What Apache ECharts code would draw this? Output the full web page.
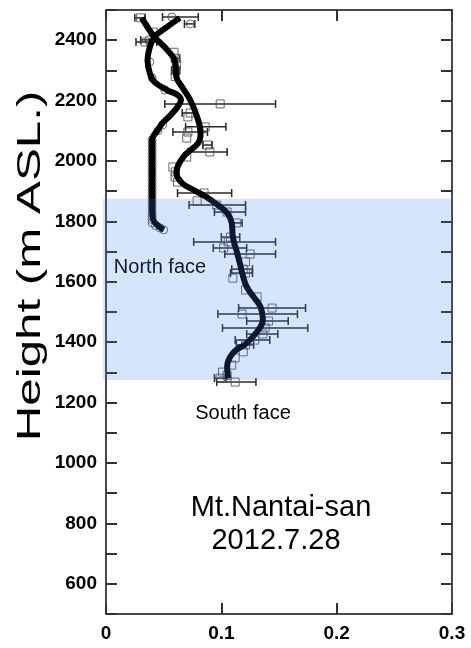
<!DOCTYPE html>
<html><head><meta charset="utf-8">
<script src="https://cdn.jsdelivr.net/npm/echarts@6/dist/echarts.min.js"></script>
<style>html,body{margin:0;padding:0;background:#fff}#c{width:471px;height:648px}</style>
</head><body><div id="c"></div>
<script>
// Tick labels
const xTicks = [0, 0.1, 0.2, 0.3];
const yTickLabels = [600, 800, 1000, 1200, 1400, 1600, 1800, 2000, 2200, 2400];
// Shaded altitude band [x, yLow, yHigh]
const band = [[0, 1275, 1875]];
// South face fitted curve [x, height]
const southLine = [[0.106,1280],[0.105,1318],[0.110,1364],[0.122,1397],[0.132,1440],[0.136,1474],[0.134,1517],[0.128,1550],[0.122,1583],[0.119,1616],[0.116,1662],[0.113,1705],[0.110,1748],[0.109,1795],[0.105,1828],[0.097,1854],[0.087,1881],[0.076,1904],[0.066,1927],[0.061,1960],[0.067,2013],[0.080,2060],[0.082,2093],[0.079,2146],[0.073,2202],[0.066,2245],[0.061,2278],[0.060,2328],[0.053,2368],[0.042,2411],[0.031,2474]];
// North face fitted curve [x, height]
const northLine = [[0.050,1772],[0.046,1783],[0.041,1805],[0.040,1838],[0.040,1950],[0.040,2070],[0.045,2103],[0.049,2126],[0.056,2152],[0.062,2179],[0.065,2202],[0.062,2219],[0.053,2235],[0.042,2262],[0.038,2291],[0.036,2334],[0.038,2377],[0.042,2411],[0.053,2444],[0.064,2474]];
// South face observations [x, height]
const southPts = [[0.112,1268],[0.099,1281],[0.105,1290],[0.101,1301],[0.109,1324],[0.112,1348],[0.119,1368],[0.121,1391],[0.129,1407],[0.136,1427],[0.138,1447],[0.141,1470],[0.118,1493],[0.144,1513],[0.131,1550],[0.121,1573],[0.110,1612],[0.121,1629],[0.119,1642],[0.121,1666],[0.125,1692],[0.102,1712],[0.106,1732],[0.108,1748],[0.113,1795],[0.105,1831],[0.096,1854],[0.079,1868],[0.085,1894],[0.062,1930],[0.060,1947],[0.060,1964],[0.058,1980],[0.070,2013],[0.090,2030],[0.088,2053],[0.070,2076],[0.071,2096],[0.086,2113],[0.071,2146],[0.073,2159],[0.099,2189],[0.060,2280],[0.060,2300],[0.061,2320],[0.060,2340],[0.059,2360],[0.034,2394],[0.041,2427],[0.030,2474]];
// South face error bars [height, xLow, xHigh]
const southErr = [[1268,0.096,0.130],[1281,0.094,0.104],[1391,0.113,0.128],[1407,0.112,0.142],[1427,0.122,0.149],[1447,0.101,0.175],[1470,0.122,0.158],[1493,0.097,0.166],[1513,0.115,0.173],[1629,0.108,0.127],[1642,0.109,0.127],[1692,0.103,0.147],[1712,0.093,0.122],[1732,0.076,0.147],[1748,0.100,0.116],[1795,0.110,0.118],[1831,0.094,0.121],[1854,0.072,0.121],[1894,0.062,0.109],[2030,0.071,0.105],[2053,0.084,0.092],[2096,0.058,0.088],[2113,0.069,0.104],[2159,0.066,0.079],[2189,0.051,0.147],[2300,0.057,0.064],[2340,0.057,0.064],[2394,0.026,0.044],[2474,0.025,0.034]];
// North face observations [x, height]
const northPts = [[0.050,1772],[0.047,1778],[0.043,1786],[0.040,1795],[0.040,1806],[0.040,1817],[0.040,1828],[0.040,1839],[0.040,1850],[0.040,1861],[0.040,1872],[0.040,1883],[0.040,1894],[0.040,1905],[0.040,1916],[0.040,1927],[0.040,1938],[0.040,1949],[0.040,1960],[0.040,1971],[0.040,1982],[0.040,1993],[0.040,2004],[0.040,2015],[0.040,2026],[0.040,2037],[0.040,2048],[0.040,2059],[0.040,2070],[0.045,2100],[0.049,2119],[0.051,2235],[0.040,2275],[0.038,2328],[0.038,2391],[0.037,2401],[0.073,2454],[0.057,2477]];
// North face error bars [height, xLow, xHigh]
const northErr = [[2401,0.030,0.044],[2454,0.068,0.077],[2477,0.049,0.080]];

const FONT = "'Liberation Sans', Arial, sans-serif";
const chart = echarts.init(document.getElementById('c'));

function errItem(params, api) {
  const y = api.value(0), lo = api.value(1), hi = api.value(2);
  const a = api.coord([lo, y]), b = api.coord([hi, y]);
  const h = 4, st = {stroke: '#2a2a2a', lineWidth: 1.5};
  return {type: 'group', children: [
    {type: 'line', shape: {x1: a[0], y1: a[1], x2: b[0], y2: b[1]}, style: st},
    {type: 'line', shape: {x1: a[0], y1: a[1] - h, x2: a[0], y2: a[1] + h}, style: st},
    {type: 'line', shape: {x1: b[0], y1: b[1] - h, x2: b[0], y2: b[1] + h}, style: st}
  ]};
}

function axisLine() { return {show: true, onZero: false, lineStyle: {color: '#4a4a4a', width: 2}}; }
function axisTick() { return {show: true, inside: true, length: 11, lineStyle: {color: '#333', width: 2}}; }

chart.setOption({
  animation: false,
  grid: {left: 106, top: 10, right: 19, bottom: 34},
  xAxis: [
    {type: 'value', position: 'bottom', min: 0, max: 0.3, interval: 0.1,
     axisLine: axisLine(), axisTick: axisTick(), splitLine: {show: false},
     axisLabel: {margin: 10, color: '#000', fontSize: 19, fontWeight: 'bold', fontFamily: FONT,
       formatter: v => (v === 0 ? '0' : v.toFixed(1))}},
    {type: 'value', position: 'top', min: 0, max: 0.3, interval: 0.1,
     axisLine: axisLine(), axisTick: axisTick(), splitLine: {show: false}, axisLabel: {show: false}}
  ],
  yAxis: [
    {type: 'value', position: 'left', min: 500, max: 2500, interval: 100,
     axisLine: axisLine(), axisTick: axisTick(), splitLine: {show: false},
     axisLabel: {margin: 9, color: '#000', fontSize: 19, fontWeight: 'bold', fontFamily: FONT,
       formatter: v => (yTickLabels.indexOf(v) >= 0 ? String(v) : '')}},
    {type: 'value', position: 'right', min: 500, max: 2500, interval: 100,
     axisLine: axisLine(), axisTick: axisTick(), splitLine: {show: false}, axisLabel: {show: false}}
  ],
  graphic: [
    {type: 'text', z: 1, x: 31, y: 266, rotation: Math.PI / 2, scaleX: 1.45,
     style: {text: 'Height (m ASL.)', fontSize: 34, fontFamily: FONT, fill: '#000', align: 'center', verticalAlign: 'middle'}},
    {type: 'text', z: 1, x: 160, y: 267, style: {text: 'North face', fontSize: 20, fontFamily: FONT, fill: '#000', align: 'center', verticalAlign: 'middle'}},
    {type: 'text', z: 1, x: 243, y: 413, style: {text: 'South face', fontSize: 20, fontFamily: FONT, fill: '#000', align: 'center', verticalAlign: 'middle'}},
    {type: 'text', z: 1, x: 281, y: 508, style: {text: 'Mt.Nantai-san', fontSize: 29, fontFamily: FONT, fill: '#000', align: 'center', verticalAlign: 'middle'}},
    {type: 'text', z: 1, x: 276, y: 541, style: {text: '2012.7.28', fontSize: 29, fontFamily: FONT, fill: '#000', align: 'center', verticalAlign: 'middle'}}
  ],
  series: [
    {type: 'custom', name: 'southErr', z: 3, data: southErr, renderItem: errItem, encode: {x: [1, 2], y: 0}},
    {type: 'custom', name: 'northErr', z: 3, data: northErr, renderItem: errItem, encode: {x: [1, 2], y: 0}},
    {type: 'scatter', name: 'southPts', z: 4, data: southPts, symbol: 'rect', symbolSize: 8,
     itemStyle: {color: 'rgba(255,255,255,0)', borderColor: '#444', borderWidth: 1}},
    {type: 'scatter', name: 'northPts', z: 4, data: northPts, symbol: 'circle', symbolSize: 8,
     itemStyle: {color: 'rgba(255,255,255,0)', borderColor: '#444', borderWidth: 1}},
    {type: 'line', name: 'South face', z: 5, data: southLine, smooth: 0.4, showSymbol: false, symbol: 'none',
     lineStyle: {color: '#000', width: 6}},
    {type: 'line', name: 'North face', z: 5, data: northLine, smooth: 0.4, showSymbol: false, symbol: 'none',
     lineStyle: {color: '#000', width: 6}},
    {type: 'custom', name: 'band', z: 20, data: band, encode: {x: 0, y: [1, 2]},
     renderItem: (params, api) => {
       const top = api.coord([0, api.value(2)]), bot = api.coord([0, api.value(1)]);
       const cs = params.coordSys;
       return {type: 'rect', shape: {x: cs.x - 3, y: top[1], width: cs.width + 3, height: bot[1] - top[1]},
               style: {fill: 'rgba(50,120,245,0.2)'}};
     }}
  ]
});
</script></body></html>
